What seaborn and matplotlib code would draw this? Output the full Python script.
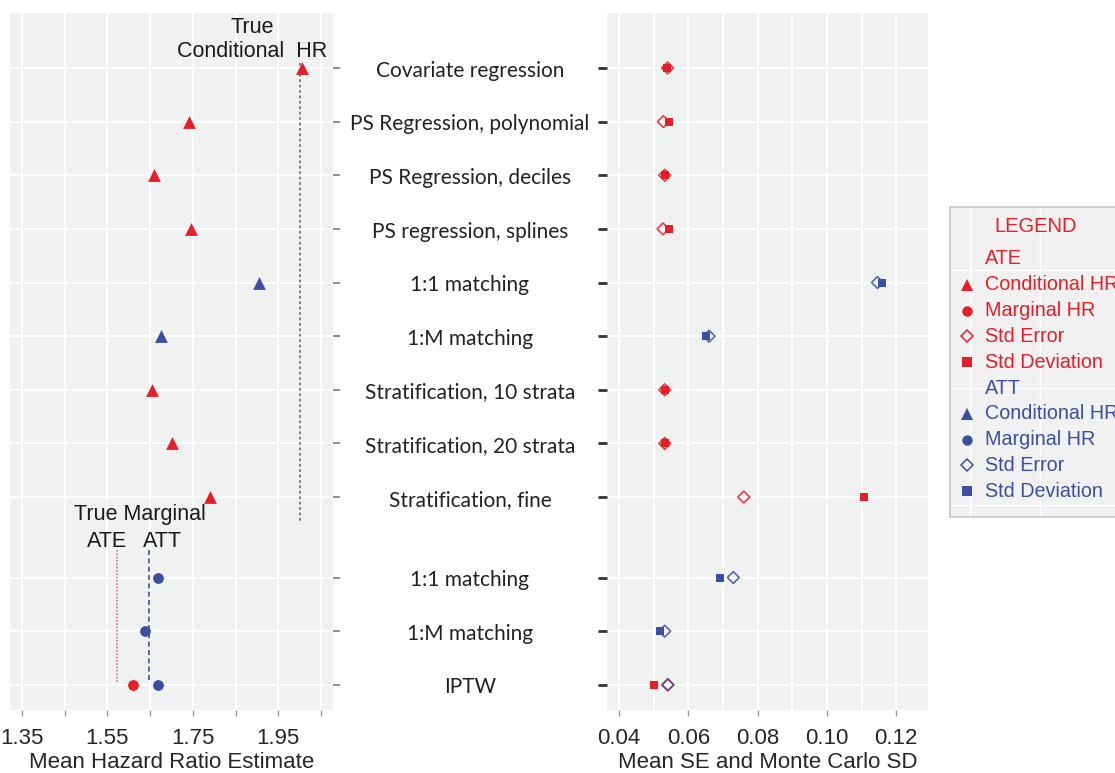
import numpy as np
import pandas as pd
import seaborn as sns
import matplotlib.pyplot as plt
import matplotlib.transforms as mtransforms

# rows of the chart (top to bottom)
methods = ["Covariate regression", "PS Regression, polynomial", "PS Regression, deciles",
           "PS regression, splines", "1:1 matching", "1:M matching",
           "Stratification, 10 strata", "Stratification, 20 strata", "Stratification, fine",
           "1:1 matching", "1:M matching", "IPTW"]

# hazard ratio estimates (left panel)
hr_row = [0, 1, 2, 3, 4, 5, 6, 7, 8, 9, 10, 11, 11]
hr_estimand = ["ATE", "ATE", "ATE", "ATE", "ATT", "ATT", "ATE", "ATE", "ATE", "ATT", "ATT", "ATE", "ATT"]
hr_type = ["Conditional"] * 9 + ["Marginal"] * 4
hr_value = [2.006, 1.741, 1.659, 1.745, 1.905, 1.676, 1.654, 1.701, 1.790, 1.668, 1.638, 1.610, 1.668]

# true values
true_conditional_hr = 2.001
true_marginal_ate = 1.572
true_marginal_att = 1.647

# standard errors / Monte Carlo SDs (right panel)
se_row = [0, 1, 2, 3, 4, 5, 6, 7, 8, 9, 10, 11, 11]
se_estimand = ["ATE", "ATE", "ATE", "ATE", "ATT", "ATT", "ATE", "ATE", "ATE", "ATT", "ATT", "ATE", "ATT"]
se_value = [0.0540, 0.0528, 0.0532, 0.0527, 0.1146, 0.0660, 0.0532, 0.0532, 0.0760, 0.0730, 0.0532, 0.0541, 0.0541]

sd_row = [0, 1, 2, 3, 4, 5, 6, 7, 8, 9, 10, 11]
sd_estimand = ["ATE", "ATE", "ATE", "ATE", "ATT", "ATT", "ATE", "ATE", "ATE", "ATT", "ATT", "ATE"]
sd_value = [0.0540, 0.0543, 0.0532, 0.0544, 0.1160, 0.0650, 0.0532, 0.0532, 0.1108, 0.0691, 0.0519, 0.0501]

RED = "#E61E27"
BLUE = "#3B4FA2"
colors = {"ATE": RED, "ATT": BLUE}


def ypos(r):
    # gap between conditional and marginal blocks
    return r if r < 9 else r + 0.5


hr = pd.DataFrame({"y": [ypos(r) for r in hr_row], "est": hr_estimand, "type": hr_type, "hr": hr_value})
se = pd.DataFrame({"y": [ypos(r) for r in se_row], "est": se_estimand, "v": se_value})
sd = pd.DataFrame({"y": [ypos(r) for r in sd_row], "est": sd_estimand, "v": sd_value})

sns.set_style("whitegrid", {"axes.facecolor": "#F0F1F1", "grid.color": "white",
                            "axes.edgecolor": "#F0F1F1"})
plt.rcParams["font.family"] = ["Liberation Sans", "DejaVu Sans"]

W, H = 1115, 773
fig = plt.figure(figsize=(W / 100, H / 100), dpi=100)


def rect(x0, y0, x1, y1):
    return [x0 / W, 1 - y1 / H, (x1 - x0) / W, (y1 - y0) / H]


ax1 = fig.add_axes(rect(10, 13, 333, 710))
ax2 = fig.add_axes(rect(607, 13, 928, 710))
ylim = (11.97, -1.025)
yticks = [ypos(r) for r in range(12)]

# ---- left panel: hazard ratios
ax1.vlines(true_conditional_hr, -0.09, 8.46, color="#777777", linestyle=(0, (1.5, 1.5)), linewidth=1.3, zorder=2)
ax1.vlines(true_marginal_ate, 8.98, 11.46, color="#F07070", linestyle=(0, (1, 1)), linewidth=1.2, zorder=2)
ax1.vlines(true_marginal_att, 8.98, 11.46, color=BLUE, linestyle=(0, (3, 2)), linewidth=1.2, zorder=2)
for (t, e), d in hr.groupby(["type", "est"]):
    sns.scatterplot(data=d, x="hr", y="y", ax=ax1, color=colors[e],
                    marker="^" if t == "Conditional" else "o",
                    s=85 if t == "Conditional" else 60, linewidth=0, zorder=3)

ax1.set_xlim(1.322, 2.078)
ax1.set_ylim(*ylim)
xt = [1.35, 1.45, 1.55, 1.65, 1.75, 1.85, 1.95, 2.05]
ax1.set_xticks(xt)
ax1.set_xticklabels(["1.35", "", "1.55", "", "1.75", "", "1.95", ""])
ax1.set_yticks(yticks)
ax1.set_yticklabels([])
ax1.yaxis.tick_right()
ax1.tick_params(axis="y", right=True, length=5, width=1.2, color="#7A7A7A")
ax1.tick_params(axis="x", bottom=True, length=4, width=1, color="#9A9A9A", labelsize=16, pad=9)
ax1.set_xlabel("Mean Hazard Ratio Estimate", fontsize=16, labelpad=2)
ax1.set_ylabel("")
ax1.grid(True, color="white", linewidth=1.3)

ax1.text(1.889, -0.12, "True\nConditional  HR", ha="center", va="bottom", fontsize=15.5,
         linespacing=1.15, color="#1A1A1A")
ax1.text(1.626, 8.33, "True Marginal", ha="center", va="center", fontsize=15.5, color="#1A1A1A")
ax1.text(1.550, 8.835, "ATE", ha="center", va="center", fontsize=15.5, color="#1A1A1A")
ax1.text(1.678, 8.835, "ATT", ha="center", va="center", fontsize=15.5, color="#1A1A1A")

# ---- right panel: SE and SD
for e, d in se.groupby("est"):
    sns.scatterplot(data=d, x="v", y="y", ax=ax2, marker="D", s=36, color=colors[e],
                    facecolor="none", edgecolor=colors[e], linewidth=1.2, alpha=0.85, zorder=3)
for e, d in sd.groupby("est"):
    sns.scatterplot(data=d, x="v", y="y", ax=ax2, marker="s", s=40, color=colors[e],
                    linewidth=0, zorder=4)

ax2.set_xlim(0.03654, 0.12918)
ax2.set_ylim(*ylim)
ax2.set_xticks([0.04, 0.06, 0.08, 0.10, 0.12])
ax2.set_xticklabels(["0.04", "0.06", "0.08", "0.10", "0.12"])
ax2.set_xticks([0.05, 0.07, 0.09, 0.11], minor=True)
ax2.set_yticks(yticks)
ax2.set_yticklabels([])
ax2.tick_params(axis="y", left=True, length=6.5, width=2, color="#333333")
ax2.tick_params(axis="x", bottom=True, length=4, width=1, color="#9A9A9A", labelsize=16, pad=9)
ax2.tick_params(axis="x", which="minor", length=0)
ax2.set_xlabel("Mean SE and Monte Carlo SD", fontsize=16, labelpad=2)
ax2.set_ylabel("")
ax2.grid(True, which="both", color="white", linewidth=1.3)

for a in (ax1, ax2):
    for sp in a.spines.values():
        sp.set_visible(False)

# ---- category labels between the panels
trans = mtransforms.blended_transform_factory(fig.transFigure, ax1.transData)
for m, y in zip(methods, yticks):
    fig.text(470 / W, y + 0.05, m, transform=trans, ha="center", va="center",
             fontsize=15, family=["Lato", "DejaVu Sans"], color="#222222")

# ---- legend panel
axl = fig.add_axes(rect(950, 207, 1135, 517))
axl.set_facecolor("#F1F1F1")
axl.set_xlim(0, 185)
axl.set_ylim(310, 0)
axl.set_xticks([20, 90])
axl.set_yticks([63, 181, 298])
axl.set_xticklabels([])
axl.set_yticklabels([])
axl.tick_params(length=0)
axl.grid(True, color="white", linewidth=1.0)
for sp in axl.spines.values():
    sp.set_visible(True)
    sp.set_color("#C8C8C8")
    sp.set_linewidth(1.2)

axl.text(86, 19, "LEGEND", ha="center", va="center", fontsize=14.5, color=RED)
entries = [("Conditional HR", "^", True), ("Marginal HR", "o", True),
           ("Std Error", "D", False), ("Std Deviation", "s", True)]
ly = 52
for est in ["ATE", "ATT"]:
    c = colors[est]
    axl.text(35, ly, est, ha="left", va="center", fontsize=14.2, color=c)
    ly += 25.8
    for lab, mk, filled in entries:
        axl.plot([17], [ly], marker=mk, markersize={"^": 8, "o": 7.5, "D": 6.5, "s": 6.5}[mk],
                 color=c, markerfacecolor=c if filled else "none",
                 markeredgewidth=1.1 if not filled else 0, linestyle="none")
        axl.text(35, ly, lab, ha="left", va="center", fontsize=14.2, color=c)
        ly += 25.8

fig.savefig("out.png", dpi=100)
